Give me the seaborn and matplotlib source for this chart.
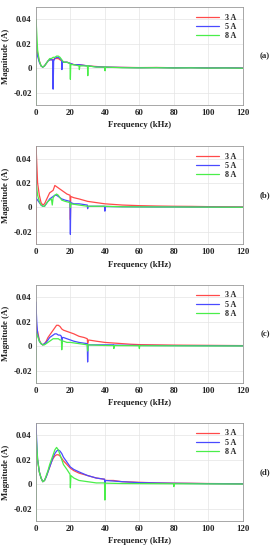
import matplotlib
matplotlib.use("Agg")
from matplotlib import pyplot as plt
import seaborn as sns
import pandas as pd

sns.set_theme(style="whitegrid")
plt.rcParams['font.family'] = ['Liberation Serif', 'DejaVu Serif']
plt.rcParams['font.weight'] = 'bold'

# 数据 (kHz, A)
# panel (a)
a_f_3 = [0, 0.3, 1, 2, 3, 4, 5, 6, 7, 8, 9, 10, 11, 12, 13, 14, 15, 16, 18, 20, 22, 25, 30, 35, 40, 50, 60, 70, 80, 90, 100, 110, 120]
a_m_3 = [0.025, 0.018, 0.012, 0.006, 0.002, 0.001, 0.002, 0.004, 0.006, 0.007, 0.007, 0.007, 0.008, 0.008, 0.008, 0.007, 0.006, 0.005, 0.005, 0.004, 0.003, 0.003, 0.002, 0.0015, 0.001, 0.0008, 0.0006, 0.0007, 0.0005, 0.0006, 0.0004, 0.0005, 0.0003]
a_f_5 = [0, 0.3, 1, 2, 3, 4, 5, 6, 7, 8, 9, 9.7, 10, 10.3, 11, 12, 13, 14, 14.9, 15.1, 15.4, 16, 18, 20, 22, 25, 30, 35, 40, 50, 60, 70, 80, 90, 100, 110, 120]
a_m_5 = [0.02, 0.014, 0.01, 0.005, 0.002, 0.001, 0.002, 0.004, 0.006, 0.007, 0.007, 0.007, -0.017, 0.006, 0.008, 0.009, 0.009, 0.008, 0.007, -0.001, 0.006, 0.005, 0.005, 0.004, 0.003, 0.003, 0.002, 0.0012, 0.001, 0.0007, 0.0005, 0.0006, 0.0004, 0.0005, 0.0003, 0.0004, 0.0002]
a_f_8 = [0, 0.1, 1, 2, 3, 4, 5, 6, 7, 8, 9, 10, 11, 12, 13, 14, 15, 16, 18, 19.8, 20, 20.2, 22, 25, 25.2, 25.5, 29.9, 30.1, 30.3, 35, 39.9, 40.1, 40.3, 50, 60, 70, 80, 90, 100, 110, 120]
a_m_8 = [-0.03, 0.04, 0.015, 0.006, 0.002, 0.001, 0.002, 0.004, 0.006, 0.008, 0.008, 0.009, 0.009, 0.010, 0.010, 0.009, 0.007, 0.005, 0.005, 0.004, -0.009, 0.003, 0.003, 0.002, -0.001, 0.002, 0.002, -0.006, 0.002, 0.001, 0.001, -0.002, 0.001, 0.0005, 0.0004, 0.0005, 0.0003, 0.0004, 0.0002, 0.0003, 0.0001]

# panel (b)
b_f_3 = [0, 0.1, 1, 2, 3, 4, 5, 6, 7, 8, 9, 10, 11, 12, 13, 14, 15, 16, 17, 18, 19.8, 20, 20.2, 22, 25, 30, 35, 40, 45, 50, 60, 70, 80, 90, 100, 110, 120]
b_m_3 = [-0.03, 0.05, 0.02, 0.01, 0.004, 0.002, 0.003, 0.006, 0.009, 0.012, 0.013, 0.014, 0.018, 0.017, 0.016, 0.015, 0.014, 0.013, 0.012, 0.011, 0.010, -0.01, 0.009, 0.008, 0.007, 0.005, 0.004, 0.003, 0.0025, 0.002, 0.0015, 0.0012, 0.001, 0.0009, 0.0007, 0.0006, 0.0005]
b_f_5 = [0, 1, 2, 3, 4, 5, 6, 7, 8, 9, 10, 11, 12, 13, 14, 15, 17, 19.8, 20, 20.2, 22, 25, 29.8, 30, 30.3, 35, 39.8, 40, 40.3, 50, 60, 70, 80, 90, 100, 110, 120]
b_m_5 = [0.008, 0.006, 0.004, 0.002, 0.001, 0.001, 0.003, 0.005, 0.007, 0.008, 0.009, 0.010, 0.010, 0.009, 0.008, 0.007, 0.006, 0.005, -0.022, 0.004, 0.003, 0.003, 0.002, -0.001, 0.001, 0.001, 0.001, -0.003, 0.0008, 0.0006, 0.0005, 0.0004, 0.0004, 0.0003, 0.0003, 0.0002, 0.0002]
b_f_8 = [0, 1, 2, 3, 4, 5, 6, 7, 8, 9, 9.5, 10, 11, 12, 13, 14, 15, 17, 19.8, 20, 20.2, 25, 30, 40, 50, 60, 80, 100, 120]
b_m_8 = [0.022, 0.01, 0.005, 0.002, 0.001, 0.001, 0.003, 0.005, 0.006, 0.007, 0.002, 0.008, 0.010, 0.011, 0.010, 0.008, 0.006, 0.005, 0.004, 0.0, 0.003, 0.002, 0.001, 0.001, 0.0006, 0.0005, 0.0004, 0.0003, 0.0002]

# panel (c)
c_f_3 = [0, 0.5, 1, 2, 3, 4, 5, 6, 7, 8, 9, 10, 11, 12, 13, 14, 15, 16, 18, 20, 22, 25, 28, 29.8, 30, 30.5, 35, 40, 45, 50, 55, 60, 70, 80, 90, 100, 110, 120]
c_m_3 = [0.02, 0.014, 0.012, 0.005, 0.002, 0.001, 0.002, 0.004, 0.007, 0.009, 0.011, 0.013, 0.015, 0.017, 0.017, 0.016, 0.014, 0.013, 0.012, 0.011, 0.010, 0.008, 0.007, 0.006, 0.002, 0.005, 0.004, 0.003, 0.0025, 0.002, 0.0015, 0.0012, 0.001, 0.0008, 0.0007, 0.0006, 0.0005, 0.0004]
c_f_5 = [0, 0.5, 1, 2, 3, 4, 5, 6, 7, 8, 9, 10, 11, 12, 13, 14, 14.8, 15, 15.3, 16, 18, 20, 22, 25, 29.8, 30, 30.3, 35, 45, 45.2, 45.4, 60, 80, 100, 120]
c_m_5 = [0.036, 0.02, 0.01, 0.004, 0.002, 0.001, 0.002, 0.003, 0.005, 0.007, 0.008, 0.009, 0.010, 0.010, 0.009, 0.009, 0.008, 0.002, 0.007, 0.007, 0.006, 0.005, 0.004, 0.003, 0.002, -0.013, 0.001, 0.001, 0.001, -0.001, 0.0008, 0.0005, 0.0004, 0.0003, 0.0002]
c_f_8 = [0, 0.1, 1, 2, 3, 4, 5, 6, 7, 8, 9, 10, 11, 12, 13, 14, 14.8, 15, 15.3, 16, 18, 20, 25, 29.8, 30, 30.3, 40, 45, 45.2, 45.4, 59.8, 60, 60.2, 80, 100, 120]
c_m_8 = [-0.03, 0.012, 0.008, 0.004, 0.002, 0.001, 0.001, 0.002, 0.003, 0.004, 0.005, 0.006, 0.006, 0.006, 0.006, 0.005, 0.005, -0.003, 0.004, 0.004, 0.003, 0.003, 0.002, 0.001, -0.004, 0.001, 0.0005, 0.0004, -0.002, 0.0004, 0.0003, -0.002, 0.0003, 0.0002, 0.0001, 0.0001]

# panel (d)
d_f_3 = [0, 1, 2, 3, 4, 5, 6, 7, 8, 9, 10, 11, 12, 13, 14, 15, 16, 18, 20, 22, 25, 30, 35, 39.8, 40, 40.3, 45, 50, 60, 70, 80, 90, 100, 110, 120]
d_m_3 = [0.03, 0.02, 0.01, 0.005, 0.002, 0.003, 0.006, 0.010, 0.014, 0.018, 0.021, 0.023, 0.024, 0.024, 0.023, 0.021, 0.019, 0.016, 0.013, 0.011, 0.009, 0.007, 0.005, 0.004, 0.0, 0.003, 0.003, 0.002, 0.0015, 0.001, 0.0008, 0.0007, 0.0005, 0.0004, 0.0003]
d_f_5 = [0, 1, 2, 3, 4, 5, 6, 7, 8, 9, 10, 11, 12, 13, 14, 15, 16, 18, 20, 22, 25, 30, 35, 39.8, 40, 40.3, 50, 60, 80, 100, 120]
d_m_5 = [0.05, 0.02, 0.01, 0.005, 0.002, 0.003, 0.006, 0.010, 0.014, 0.018, 0.022, 0.025, 0.027, 0.028, 0.027, 0.025, 0.022, 0.018, 0.014, 0.012, 0.010, 0.007, 0.005, 0.004, -0.001, 0.003, 0.002, 0.0012, 0.0007, 0.0004, 0.0002]
d_f_8 = [0, 0.1, 1, 2, 3, 4, 5, 6, 7, 8, 9, 10, 11, 12, 13, 14, 15, 16, 18, 19.8, 20, 20.3, 22, 25, 30, 35, 39.8, 40, 40.3, 50, 79.8, 80, 80.2, 100, 120]
d_m_8 = [-0.03, 0.04, 0.02, 0.01, 0.005, 0.002, 0.003, 0.007, 0.011, 0.016, 0.020, 0.024, 0.028, 0.030, 0.028, 0.024, 0.020, 0.016, 0.012, 0.008, -0.003, 0.007, 0.005, 0.003, 0.002, 0.001, 0.001, -0.013, 0.0008, 0.0005, 0.0003, -0.002, 0.0003, 0.0002, 0.0001]

currents = ["3 A", "5 A", "8 A"]
colors = ["#ff4a4a", "#4a4aff", "#4aee4a"]
panel_tags = ["(a)", "(b)", "(c)", "(d)"]
panels = [
    [(a_f_3, a_m_3), (a_f_5, a_m_5), (a_f_8, a_m_8)],
    [(b_f_3, b_m_3), (b_f_5, b_m_5), (b_f_8, b_m_8)],
    [(c_f_3, c_m_3), (c_f_5, c_m_5), (c_f_8, c_m_8)],
    [(d_f_3, d_m_3), (d_f_5, d_m_5), (d_f_8, d_m_8)],
]
y_ticks = [-0.02, 0, 0.02, 0.04]
y_labels = ["-0.02", "0", "0.02", "0.04"]
x_ticks = [0, 20, 40, 60, 80, 100, 120]

fig = plt.figure(figsize=(2.76, 5.5), dpi=100)
bottoms = [0.809, 0.556, 0.304, 0.053]

for k, series in enumerate(panels):
    ax = fig.add_axes([0.13, bottoms[k], 0.75, 0.178])
    for (f, m), lab, c in zip(series, currents, colors):
        df = pd.DataFrame({"f": f, "m": m})
        sns.lineplot(data=df, x="f", y="m", ax=ax, color=c, lw=0.9,
                     estimator=None, sort=False, label=lab)
    ax.set_xlim(0, 120)
    ax.set_ylim(-0.03, 0.05)
    ax.set_xticks(x_ticks)
    ax.set_yticks(y_ticks)
    ax.set_yticklabels(y_labels)
    ax.tick_params(labelsize=6.3, length=0, pad=3, labelcolor="#222222")
    for t in ax.get_xticklabels() + ax.get_yticklabels():
        t.set_fontweight('bold')
    ax.grid(True, color="#e4e4e4", lw=0.5)
    for s in ax.spines.values():
        s.set_color("#999999")
        s.set_linewidth(0.6)
    ax.set_xlabel("Frequency (kHz)", fontsize=6.3, fontweight='bold', labelpad=3, color="#222222")
    ax.set_ylabel("Magnitude (A)", fontsize=6.3, fontweight='bold', labelpad=2, color="#222222")
    leg = ax.legend(loc="upper right", frameon=False, fontsize=5.8,
                    handlelength=2.8, borderaxespad=0.4, labelspacing=0.15)
    for t in leg.get_texts():
        t.set_fontweight('bold')
    fig.text(0.96, bottoms[k] + 0.178 * 0.5, panel_tags[k], fontsize=6.3,
             fontweight='bold', ha='center', va='center')

plt.savefig("out.png", dpi=100)
